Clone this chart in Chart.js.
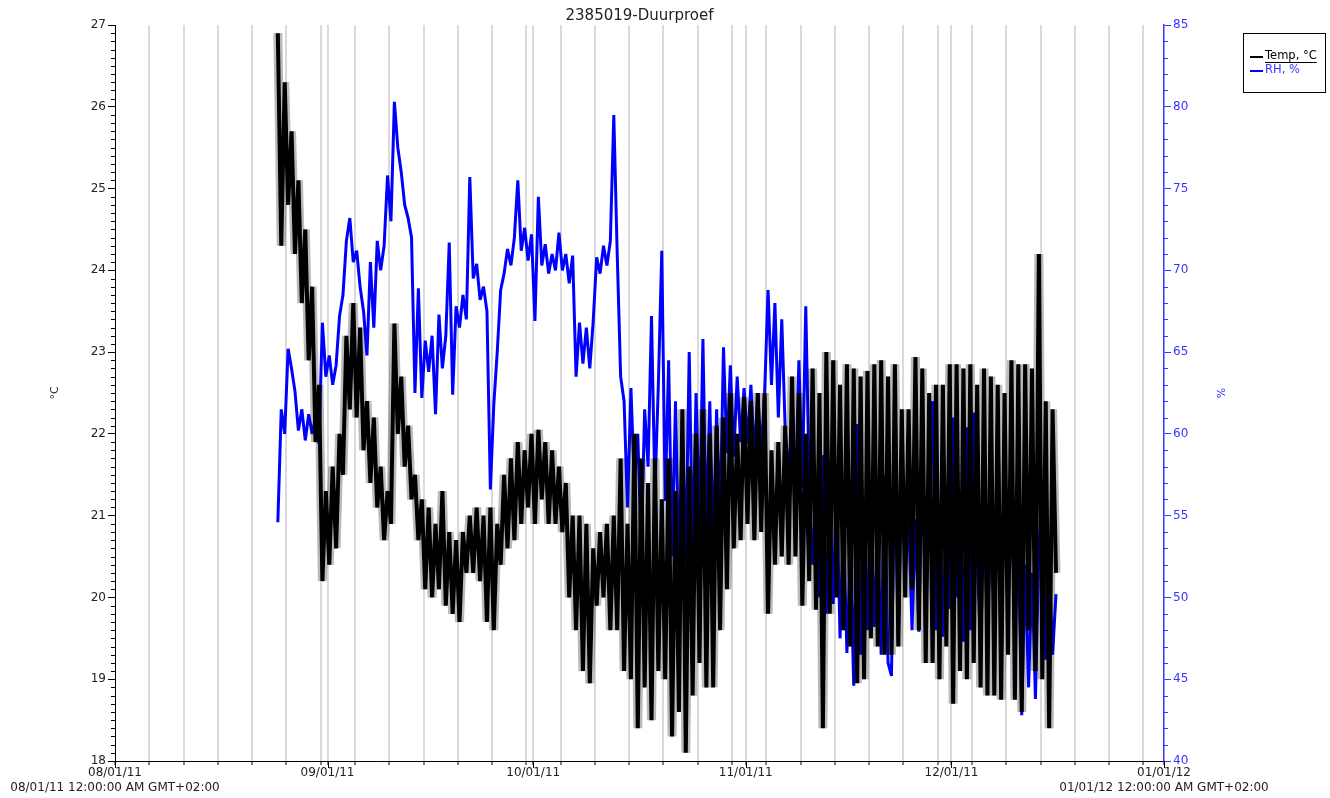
<!DOCTYPE html>
<html><head><meta charset="utf-8">
<script src="https://cdn.jsdelivr.net/npm/chart.js@4.4.0/dist/chart.umd.min.js"></script>
<style>html,body{margin:0;padding:0;background:#fff;}canvas{display:block;}</style>
</head><body>
<canvas id="c" width="1330" height="798"></canvas>
<script>
const chartTitle = '2385019-Duurproef';
const seriesNames = ['Temp, °C', 'RH, %'];
const axisTitles = ['°C', '%'];
const monthTickDays = [0, 31, 61, 92, 122, 153];
const monthTickLabels = ['08/01/11', '09/01/11', '10/01/11', '11/01/11', '12/01/11', '01/01/12'];
const edgeTickNotes = ['08/01/11 12:00:00 AM GMT+02:00', '01/01/12 12:00:00 AM GMT+02:00'];
const gridEveryDays = 5;
const sampleStartDay = 23.75;   // days after 08/01/11 00:00
const sampleStepDay = 0.5;      // 12-hour samples

const tempValues = [
  26.9, 24.3, 26.3, 24.8, 25.7, 24.2, 25.1, 23.6, 24.5, 22.9, 23.8, 21.9, 22.6, 20.2, 21.3, 20.4,
  21.6, 20.6, 22.0, 21.5, 23.2, 22.3, 23.6, 22.2, 23.3, 21.8, 22.4, 21.4,
  22.2, 21.1, 21.6, 20.7, 21.3, 20.9, 23.35, 22.0, 22.7, 21.6, 22.1, 21.2, 21.5, 20.7, 21.2, 20.1, 21.1, 20.0, 20.9, 20.1, 21.3, 19.9, 20.8, 19.8, 20.7, 19.7, 20.8, 20.3, 21.0,
  20.3, 21.1, 20.2, 21.0, 19.7, 21.1, 19.6, 20.9, 20.4, 21.5, 20.6, 21.7, 20.7, 21.9, 20.9, 21.8, 21.1, 22.0, 20.9, 22.05, 21.2, 21.9, 20.9, 21.8, 20.9, 21.6, 20.8, 21.4, 20.0,
  21.0, 19.6, 21.0, 19.1, 20.9, 18.95, 20.6, 19.9, 20.8, 20.0,
  20.9, 19.6, 21.0, 19.6, 21.7, 19.1, 20.9, 19.0, 22.0, 18.4,
  21.7, 18.9, 21.4, 18.5, 21.7, 19.1, 21.2, 19.0, 21.7, 18.3,
  21.3, 18.6, 22.3, 18.1, 21.6, 18.8, 22.0, 19.2, 22.3, 18.9,
  22.0, 18.9, 22.1, 19.6, 22.2, 20.1, 22.5, 20.6, 22.0, 20.7,
  22.45, 20.9, 22.4, 20.7, 22.5, 20.8, 22.5, 19.8,
  21.8, 20.4, 21.9, 20.5, 22.1, 20.4, 22.7, 20.5, 22.5, 19.9,
  22.0, 20.2, 22.8, 19.85, 22.5, 18.4, 23.0, 19.8, 22.9, 20.0,
  22.6, 19.6, 22.85, 19.4, 22.8, 18.95, 22.7, 19.0, 22.77, 19.5,
  22.85, 19.4, 22.9, 19.3, 22.7, 19.3, 22.85, 19.4, 22.3, 20.0,
  22.3, 20.1, 22.94, 19.6, 22.8, 19.2, 22.5, 19.2, 22.6, 19.0,
  22.6, 19.4, 22.85, 18.7, 22.85, 19.1, 22.8, 19.0, 22.85, 19.2,
  22.6, 18.9, 22.8, 18.8, 22.7, 18.8, 22.6, 18.75, 22.5, 19.3,
  22.9, 18.75, 22.85, 18.6, 22.85, 19.6, 22.8, 19.1, 24.2, 19.0,
  22.4, 18.4, 22.3, 20.3
];

const rhValues = [
  54.6, 61.5, 60.0, 65.2, 64.0, 62.6, 60.2, 61.5, 59.6, 61.2, 60.0, 61.0, 59.4, 66.8, 63.5, 64.8,
  63.0, 64.2, 67.2, 68.5, 71.8, 73.2, 70.5, 71.2, 69.0, 67.5, 64.8, 70.5,
  66.5, 71.8, 70.0, 71.5, 75.8, 73.0, 80.3, 77.5, 76.0, 74.0, 73.2, 72.0, 62.5, 68.9, 62.2, 65.7, 63.8, 66.0, 61.2, 67.3, 64.0, 66.0, 71.7, 62.4, 67.8, 66.5, 68.5, 67.0, 75.7,
  69.5, 70.4, 68.2, 69.0, 67.5, 56.6, 61.8, 65.0, 68.8, 69.8, 71.3, 70.3, 72.0, 75.5, 71.2, 72.6, 70.6, 72.2, 66.9, 74.5, 70.3, 71.6, 69.8, 71.0, 70.0, 72.3, 70.0, 71.0, 69.2,
  70.9, 63.5, 66.8, 64.3, 66.5, 64.0, 66.9, 70.8, 69.8, 71.5,
  70.3, 71.8, 79.5, 71.0, 63.5, 62.0, 55.5, 62.8, 57.0, 60.0,
  52.8, 61.5, 58.0, 67.2, 56.5, 63.0, 71.2, 55.9, 64.5, 52.5,
  62.0, 51.5, 61.0, 52.0, 65.0, 52.4, 62.5, 54.0, 65.8, 53.6,
  62.0, 53.2, 61.5, 54.5, 65.3, 58.8, 64.2, 58.6, 63.5, 59.5,
  62.8, 59.4, 63.0, 58.6, 62.5, 58.8, 62.5, 68.8,
  63.0, 68.0, 61.0, 67.0, 60.3, 57.5, 61.0, 56.3, 64.5, 56.7,
  67.8, 57.0, 52.0, 56.5, 50.0, 58.7, 49.0, 56.5, 49.6, 57.2,
  47.5, 54.5, 46.6, 52.5, 44.6, 60.6, 46.5, 55.2, 48.0, 57.0,
  48.2, 53.5, 46.5, 57.5, 46.0, 45.2, 58.7, 47.2, 58.7, 51.5,
  55.0, 48.0, 54.8, 47.9, 60.1, 48.0, 57.0, 62.0, 48.0, 55.8,
  47.6, 55.5, 49.3, 61.0, 50.0, 55.5, 47.3, 60.4, 48.0, 61.3,
  52.8, 46.8, 55.0, 48.2, 54.5, 48.8, 61.5, 49.3, 56.0, 49.1,
  55.6, 48.5, 52.8, 42.8, 52.0, 44.5, 51.5, 43.8, 53.0, 56.3,
  46.2, 52.2, 46.5, 50.2
];

const tempRange = [18, 27];
const rhRange = [40, 85];

const FONT = 'DejaVu Sans';
const BLUE = '#0000ff';
const AXISBLUE = '#3535ff';

const toPoints = vals => vals.map((v, i) => ({ x: sampleStartDay + i * sampleStepDay, y: v }));
const tempPts = toPoints(tempValues);
const rhPts = toPoints(rhValues);

const xTickDays = (() => {
  const s = new Set(monthTickDays);
  for (let d = 0; d <= monthTickDays[monthTickDays.length - 1]; d += gridEveryDays) s.add(d);
  return Array.from(s).sort((a, b) => a - b);
})();

const decor = {
  id: 'decor',
  afterDraw(chart) {
    const { ctx, chartArea: ca, scales } = chart;
    const yL = scales.yL, yR = scales.yR, x = scales.x;
    ctx.save();
    ctx.lineWidth = 1;
    ctx.strokeStyle = '#000';
    ctx.beginPath();
    for (let k = 1; k < (yL.max - yL.min) * 10; k++) {
      if (k % 10 === 0) continue;
      const py = Math.round(yL.getPixelForValue(yL.min + k / 10)) + 0.5;
      ctx.moveTo(ca.left - 4, py); ctx.lineTo(ca.left, py);
    }
    ctx.stroke();
    ctx.strokeStyle = AXISBLUE;
    ctx.beginPath();
    for (let v = yR.min + 1; v < yR.max; v++) {
      if (v % 5 === 0) continue;
      const py = Math.round(yR.getPixelForValue(v)) + 0.5;
      ctx.moveTo(ca.right, py); ctx.lineTo(ca.right + 4, py);
    }
    ctx.stroke();
    ctx.strokeStyle = '#000';
    ctx.beginPath();
    monthTickDays.forEach(d => {
      const px = Math.round(x.getPixelForValue(d)) + 0.5;
      ctx.moveTo(px, ca.bottom); ctx.lineTo(px, ca.bottom + 7);
    });
    ctx.stroke();
    ctx.fillStyle = '#222';
    ctx.font = '15px "' + FONT + '"';
    ctx.textAlign = 'center';
    ctx.textBaseline = 'middle';
    ctx.fillText(chartTitle, (ca.left + ca.right) / 2, 16);
    ctx.font = '11px "' + FONT + '"';
    ctx.save();
    ctx.translate(55, (ca.top + ca.bottom) / 2);
    ctx.rotate(-Math.PI / 2);
    ctx.fillStyle = '#222';
    ctx.fillText(axisTitles[0], 0, 0);
    ctx.restore();
    ctx.save();
    ctx.translate(1222, (ca.top + ca.bottom) / 2);
    ctx.rotate(-Math.PI / 2);
    ctx.fillStyle = AXISBLUE;
    ctx.fillText(axisTitles[1], 0, 0);
    ctx.restore();
    ctx.strokeStyle = '#000';
    ctx.lineWidth = 1;
    ctx.strokeRect(1243.5, 33.5, 82, 59);
    ctx.font = '11.5px "' + FONT + '"';
    ctx.textAlign = 'left';
    ctx.lineWidth = 2;
    ctx.beginPath(); ctx.moveTo(1250, 57); ctx.lineTo(1263, 57); ctx.stroke();
    ctx.fillStyle = '#000';
    ctx.fillText(seriesNames[0], 1265, 56);
    const w0 = ctx.measureText(seriesNames[0]).width;
    ctx.lineWidth = 1;
    ctx.beginPath(); ctx.moveTo(1265, 62.5); ctx.lineTo(1265 + w0, 62.5); ctx.stroke();
    ctx.strokeStyle = BLUE;
    ctx.lineWidth = 2;
    ctx.beginPath(); ctx.moveTo(1250, 71); ctx.lineTo(1263, 71); ctx.stroke();
    ctx.fillStyle = AXISBLUE;
    ctx.fillText(seriesNames[1], 1265, 70);
    ctx.restore();
  }
};

new Chart(document.getElementById('c'), {
  type: 'line',
  data: {
    datasets: [
      { label: seriesNames[1], data: rhPts, yAxisID: 'yR', borderColor: BLUE, borderWidth: 3,
        borderJoinStyle: 'bevel', pointRadius: 0, tension: 0, order: 3, fill: false },
      { label: 'halo', data: tempPts, yAxisID: 'yL', borderColor: 'rgba(0,0,0,0.27)', borderWidth: 9,
        borderJoinStyle: 'bevel', pointRadius: 0, tension: 0, order: 2, fill: false },
      { label: seriesNames[0], data: tempPts, yAxisID: 'yL', borderColor: '#000', borderWidth: 4,
        borderJoinStyle: 'bevel', pointRadius: 0, tension: 0, order: 1, fill: false }
    ]
  },
  options: {
    responsive: false,
    animation: false,
    devicePixelRatio: 1,
    events: [],
    layout: { padding: { top: 25, left: 0, right: 0, bottom: 0 } },
    plugins: { legend: { display: false }, tooltip: { enabled: false }, title: { display: false } },
    scales: {
      x: {
        type: 'linear',
        min: monthTickDays[0],
        max: monthTickDays[monthTickDays.length - 1],
        afterBuildTicks: s => { s.ticks = xTickDays.map(v => ({ value: v })); },
        afterFit: s => { s.height = 37; },
        ticks: {
          autoSkip: false, maxRotation: 0, minRotation: 0, padding: 1,
          color: '#222', font: { family: FONT, size: 12 },
          callback: v => {
            const mi = monthTickDays.indexOf(v);
            if (mi < 0) return '';
            if (mi === 0) return [monthTickLabels[0], edgeTickNotes[0]];
            if (mi === monthTickDays.length - 1) return [monthTickLabels[mi], edgeTickNotes[1]];
            return monthTickLabels[mi];
          }
        },
        grid: {
          color: c => (c.tick && (c.tick.value === monthTickDays[0] || c.tick.value === monthTickDays[monthTickDays.length - 1])) ? 'rgba(0,0,0,0)' : '#dadada',
          lineWidth: 2, tickColor: '#000', tickLength: 4, tickWidth: 1
        },
        border: { color: '#000', width: 1 }
      },
      yL: {
        position: 'left', min: tempRange[0], max: tempRange[1],
        afterFit: s => { s.width = 115; },
        ticks: { stepSize: 1, padding: 2, color: '#222', font: { family: FONT, size: 12 } },
        grid: { drawOnChartArea: false, tickLength: 7, tickColor: '#000', tickWidth: 1 },
        border: { color: '#000', width: 1 }
      },
      yR: {
        position: 'right', min: rhRange[0], max: rhRange[1],
        afterFit: s => { s.width = 166; },
        ticks: { stepSize: 5, padding: 2, color: AXISBLUE, font: { family: FONT, size: 12 } },
        grid: { drawOnChartArea: false, tickLength: 7, tickColor: AXISBLUE, tickWidth: 1 },
        border: { color: AXISBLUE, width: 1.5 }
      }
    }
  },
  plugins: [decor]
});
</script>
</body></html>
